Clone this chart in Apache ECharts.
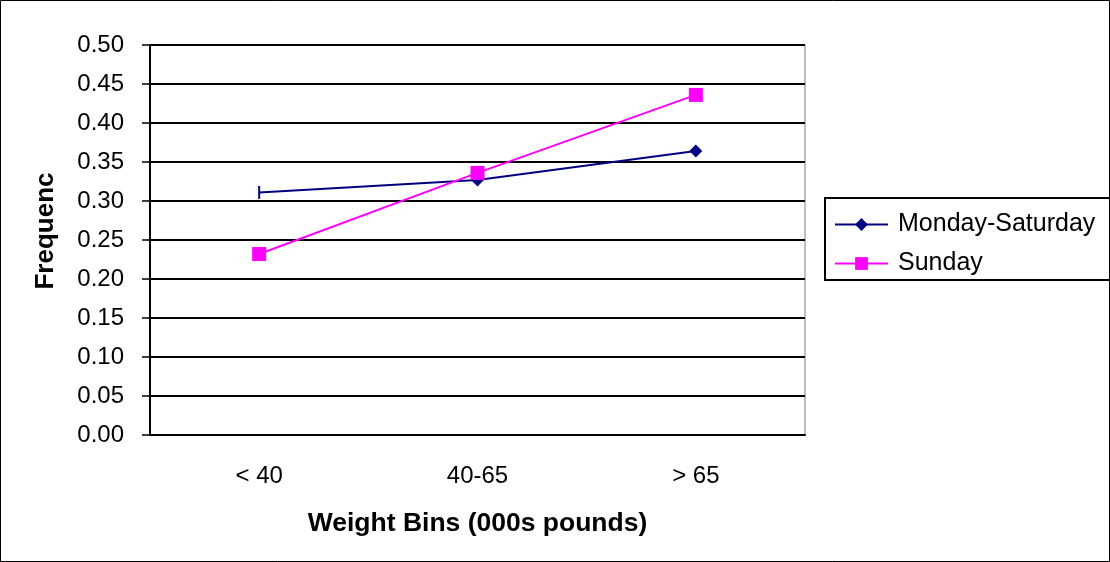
<!DOCTYPE html>
<html><head><meta charset="utf-8">
<script src="https://cdn.jsdelivr.net/npm/echarts@6/dist/echarts.min.js"></script>
<style>html,body{margin:0;padding:0;background:#fff}#c{width:1110px;height:562px}</style>
</head><body><div id="c"></div>
<script>
const categories = ['< 40', '40-65', '> 65'];
const monSat = [0.311, 0.327, 0.364];
const sunday = [0.232, 0.336, 0.436];
const yTicks = { min: 0, max: 0.5, interval: 0.05 };

const chart = echarts.init(document.getElementById('c'));
const font = 'Liberation Sans, Arial, sans-serif';
chart.setOption({
  animation: false,
  backgroundColor: '#fff',
  graphic: [{ type: 'rect', shape: { x: 0.5, y: 0.5, width: 1109, height: 561 }, style: { fill: 'none', stroke: '#000', lineWidth: 1 }, z: 100 }],
  grid: { left: 150, right: 305, top: 45, bottom: 127, show: true, borderColor: '#808080', borderWidth: 1 },
  legend: {
    orient: 'vertical', left: 825, top: 198,
    padding: [14, 20, 4, 9], itemGap: 14, itemWidth: 53, itemHeight: 16,
    borderColor: '#000', borderWidth: 2,
    textStyle: { fontFamily: font, fontSize: 25, color: '#000', lineHeight: 25, padding: [0, 0, 0, 5] },
    data: ['Monday-Saturday', 'Sunday']
  },
  xAxis: {
    type: 'category', data: categories, boundaryGap: true,
    axisLine: { lineStyle: { color: '#000', width: 2 } },
    axisTick: { length: 8, lineStyle: { color: '#000', width: 1.5 } },
    axisLabel: { margin: 29, fontFamily: font, fontSize: 24, color: '#000' },
    name: 'Weight Bins (000s pounds)', nameLocation: 'middle', nameGap: 75,
    nameTextStyle: { fontFamily: font, fontSize: 26.5, fontWeight: 'bold', color: '#000' }
  },
  yAxis: {
    type: 'value', min: yTicks.min, max: yTicks.max, interval: yTicks.interval,
    axisLine: { show: true, lineStyle: { color: '#000', width: 2 } },
    axisTick: { show: true, length: 8, lineStyle: { color: '#000', width: 1.5 } },
    splitLine: { lineStyle: { color: '#000', width: 2 } },
    axisLabel: { margin: 26, fontFamily: font, fontSize: 24, color: '#000', formatter: v => v.toFixed(2) },
    name: 'Frequency', nameLocation: 'middle', nameGap: 91,
    nameTruncate: { maxWidth: 122, ellipsis: '' },
    nameTextStyle: { fontFamily: font, fontSize: 26, fontWeight: 'bold', color: '#000', align: 'center', padding: [0, 0, 0, 18] }
  },
  series: [
    { name: 'Monday-Saturday', type: 'line', data: [{ value: monSat[0], symbol: 'rect', symbolSize: [2, 13] }, monSat[1], monSat[2]],
      symbol: 'diamond', symbolSize: 13, color: '#000080',
      lineStyle: { color: '#000080', width: 2 }, itemStyle: { color: '#000080' } },
    { name: 'Sunday', type: 'line', data: sunday,
      symbol: 'rect', symbolSize: 14, color: '#FF00FF',
      lineStyle: { color: '#FF00FF', width: 2 }, itemStyle: { color: '#FF00FF' } }
  ]
});
</script></body></html>
